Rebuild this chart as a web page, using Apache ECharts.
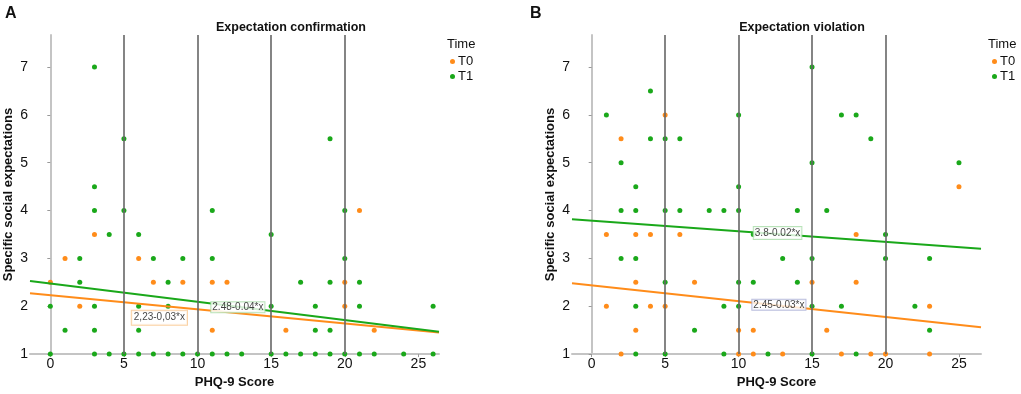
<!DOCTYPE html>
<html><head><meta charset="utf-8">
<script src="https://cdn.jsdelivr.net/npm/echarts@6/dist/echarts.min.js"></script>
<style>html,body{margin:0;padding:0;background:#fff}#c{width:1021px;height:394px}</style>
</head><body><div id="c"></div>
<script>
// ---- data ----
const xTicks = [0, 5, 10, 15, 20, 25];
const yTicks = [1, 2, 3, 4, 5, 6, 7];
const refLinesX = [5, 10, 15, 20];
const seriesNames = ['T0', 'T1'];

const confirmT0 = [[0,2.5],[1,3],[2,2],[3,3.5],[6,3],[7,2.5],[9,2.5],[11,2.5],[11,1.5],[12,2.5],[16,1.5],[20,2.5],[20,2],[21,4],[22,1.5]];
const confirmT1 = [[0,2],[0,1],[1,1.5],[2,3],[2,2.5],[3,7],[3,4.5],[3,4],[3,2],[3,1.5],[3,1],[4,3.5],[4,1],[5,5.5],[5,4],[5,1],[6,3.5],[6,2],[6,1.5],[6,1],[7,3],[7,1],[8,2.5],[8,2],[8,1],[9,3],[9,1],[10,1],[11,4],[11,3],[11,1],[12,1],[13,1],[15,3.5],[15,2],[15,1],[16,1],[17,2.5],[17,1],[18,2],[18,1.5],[18,1],[19,5.5],[19,2.5],[19,1.5],[19,1],[20,4],[20,3],[20,1],[21,2.5],[21,2],[21,1],[22,1],[24,1],[26,2],[26,1]];
const violationT0 = [[1,3.5],[1,2],[2,5.5],[2,1],[3,3.5],[3,2.5],[3,1.5],[4,3.5],[4,2],[5,6],[5,2],[6,3.5],[7,2.5],[10,1.5],[10,1],[11,1.5],[11,1],[13,1],[15,2.5],[16,1.5],[17,1],[18,3.5],[18,2.5],[19,1],[20,1],[23,2],[23,1],[25,4.5]];
const violationT1 = [[1,6],[2,5],[2,4],[2,3],[3,4.5],[3,4],[3,3],[3,2],[3,1],[4,6.5],[4,5.5],[5,5.5],[5,4],[5,2.5],[5,1],[6,5.5],[6,4],[7,1.5],[8,4],[9,4],[9,2],[9,1],[10,6],[10,4.5],[10,4],[10,2.5],[10,2],[11,3.5],[11,2.5],[12,1],[13,3],[14,4],[14,2.5],[15,7],[15,5],[15,3],[15,2],[15,1],[16,4],[17,6],[17,2],[18,6],[18,1],[19,5.5],[20,3.5],[20,3],[22,2],[23,3],[23,1.5],[25,5]];

// fit lines (endpoints)
const confirmFitT0 = [[-1.38,2.27],[26.4,1.45]];
const confirmFitT1 = [[-1.38,2.53],[26.4,1.465]];
const violationFitT0 = [[-1.34,2.48],[26.5,1.56]];
const violationFitT1 = [[-1.34,3.82],[26.5,3.2]];

// fit labels: [x, y, text]
const confirmLabelT0 = [5.5, 1.76, '2,23-0,03*x'];
const confirmLabelT1 = [10.9, 1.98, '2.48-0.04*x'];
const violationLabelT0 = [10.9, 2.03, '2.45-0.03*x'];
const violationLabelT1 = [11.0, 3.53, '3.8-0.02*x'];

const panelTitles = ['Expectation confirmation', 'Expectation violation'];
const panelLetters = ['A', 'B'];
const xName = 'PHQ-9 Score';
const yName = 'Specific social expectations';
const legendTitle = 'Time';

// ---- styling ----
const ORANGE = '#ff8c1a', GREEN = '#1aa81a';
const FONT = 'Liberation Sans, Arial, sans-serif';

function xAxis(i, min, max) {
  return {
    type: 'value', gridIndex: i, min: min, max: max,
    name: xName, nameLocation: 'middle', nameGap: 20,
    nameTextStyle: {fontFamily: FONT, fontWeight: 'bold', fontSize: 13, color: '#111'},
    splitLine: {show: false},
    axisLine: {lineStyle: {color: '#c4c4c4', width: 2}},
    axisTick: {customValues: xTicks, length: 3, lineStyle: {color: '#999'}},
    axisLabel: {customValues: xTicks, fontFamily: FONT, fontSize: 14, color: '#111', margin: 3}
  };
}
function yAxis(i) {
  return {
    type: 'value', gridIndex: i, min: 1, max: 7.67,
    name: yName, nameLocation: 'middle', nameGap: 15, nameRotate: 90,
    nameTextStyle: {fontFamily: FONT, fontWeight: 'bold', fontSize: 13, color: '#111'},
    splitLine: {show: false},
    axisLine: {show: true, lineStyle: {color: '#c4c4c4', width: 2}},
    axisTick: {show: true, customValues: yTicks, length: 3, lineStyle: {color: '#999'}},
    axisLabel: {customValues: yTicks, fontFamily: FONT, fontSize: 14, color: '#111', margin: 2}
  };
}
function scatter(name, i, data, color, z) {
  return {type: 'scatter', name: name, xAxisIndex: i, yAxisIndex: i, data: data,
    symbolSize: 5, itemStyle: {color: color, opacity: 1}, z: z, silent: true};
}
function fit(name, i, data, color) {
  return {type: 'line', name: name, xAxisIndex: i, yAxisIndex: i, data: data,
    showSymbol: false, symbol: 'none', lineStyle: {color: color, width: 2}, itemStyle: {color: color}, z: 4, silent: true};
}
function refLines(i) {
  return {type: 'line', xAxisIndex: i, yAxisIndex: i, data: [], z: 1, silent: true,
    markLine: {silent: true, symbol: 'none', label: {show: false},
      lineStyle: {color: '#666', width: 1.6, type: 'solid'},
      data: refLinesX.map(v => ({xAxis: v}))}};
}
function fitLabel(i, lab, border, pad) {
  return {type: 'scatter', xAxisIndex: i, yAxisIndex: i, data: [[lab[0], lab[1]]],
    symbolSize: 1, itemStyle: {color: 'rgba(0,0,0,0)'}, z: 10, silent: true,
    label: {show: true, position: 'right', distance: 0, formatter: lab[2],
      fontFamily: FONT, fontSize: 10, color: '#111', backgroundColor: '#fff',
      borderColor: border, borderWidth: 1, padding: pad}};
}
function legend(left) {
  return {left: left, top: 55, orient: 'vertical', itemGap: 2, itemWidth: 5, itemHeight: 5, padding: 0,
    icon: 'circle', data: seriesNames, selectedMode: false,
    textStyle: {fontFamily: FONT, fontSize: 13, color: '#111', padding: [0,0,0,-2]}};
}
function ttl(text, left, top, size, weight, align) {
  return {text: text, left: left, top: top, padding: 0, textAlign: align || 'left',
    textStyle: {fontFamily: FONT, fontWeight: weight, fontSize: size, color: '#111'}};
}

const chart = echarts.init(document.getElementById('c'));
chart.setOption({
  animation: false,
  color: [ORANGE, GREEN],
  title: [
    ttl(panelLetters[0], 5, 6, 16, 'bold'),
    ttl(panelLetters[1], 530, 6, 16, 'bold'),
    ttl(panelTitles[0], 291, 21, 12.5, 'bold', 'center'),
    ttl(panelTitles[1], 802, 21, 12.5, 'bold', 'center'),
    ttl(legendTitle, 447, 38, 13, 'normal'),
    ttl(legendTitle, 988, 38, 13, 'normal')
  ],
  legend: [legend(450), legend(992)],
  grid: [
    {left: 30, right: 582, top: 35, bottom: 39},
    {left: 572, right: 40, top: 35, bottom: 38}
  ],
  xAxis: [xAxis(0, -1.38, 26.4), xAxis(1, -1.34, 26.5)],
  yAxis: [yAxis(0), yAxis(1)],
  series: [
    refLines(0), refLines(1),
    scatter('T0', 0, confirmT0, ORANGE, 2),
    scatter('T1', 0, confirmT1, GREEN, 3),
    scatter('T0', 1, violationT0, ORANGE, 2),
    scatter('T1', 1, violationT1, GREEN, 3),
    fit('T0', 0, confirmFitT0, ORANGE),
    fit('T1', 0, confirmFitT1, GREEN),
    fit('T0', 1, violationFitT0, ORANGE),
    fit('T1', 1, violationFitT1, GREEN),
    fitLabel(0, confirmLabelT0, '#f9c48a', [2, 2]),
    fitLabel(0, confirmLabelT1, '#a8dca8', [0, 1]),
    fitLabel(1, violationLabelT0, '#a9aed6', [0, 1]),
    fitLabel(1, violationLabelT1, '#a8dca8', [1, 1])
  ]
});
</script></body></html>
